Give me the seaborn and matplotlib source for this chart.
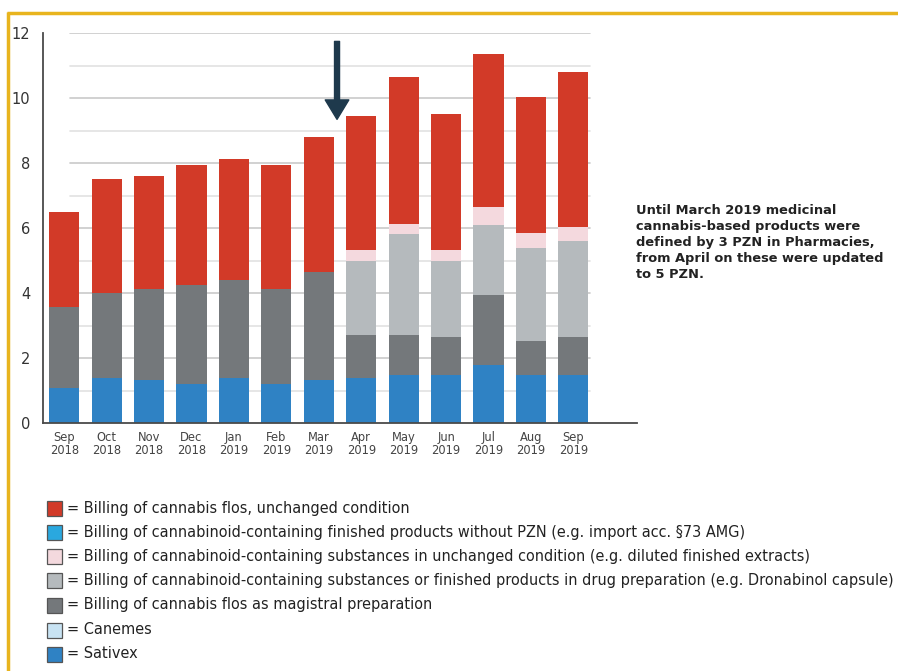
import numpy as np
import pandas as pd
import matplotlib
matplotlib.use("Agg")
import matplotlib.pyplot as plt
from matplotlib.patches import Rectangle
from matplotlib.lines import Line2D
import seaborn as sns

# ---------------- data ----------------
months = ["Sep\n2018", "Oct\n2018", "Nov\n2018", "Dec\n2018", "Jan\n2019", "Feb\n2019",
          "Mar\n2019", "Apr\n2019", "May\n2019", "Jun\n2019", "Jul\n2019", "Aug\n2019", "Sep\n2019"]
sativex = [1.08, 1.38, 1.31, 1.21, 1.38, 1.21, 1.33, 1.38, 1.49, 1.49, 1.79, 1.49, 1.49]
flos_magistral = [2.48, 2.62, 2.81, 3.03, 3.03, 2.91, 3.32, 1.34, 1.23, 1.15, 2.14, 1.04, 1.15]
drug_preparation = [0, 0, 0, 0, 0, 0, 0, 2.28, 3.10, 2.36, 2.17, 2.85, 2.97]
substances_unchanged = [0, 0, 0, 0, 0, 0, 0, 0.33, 0.31, 0.33, 0.54, 0.47, 0.44]
flos_unchanged = [2.95, 3.52, 3.50, 3.69, 3.72, 3.81, 4.17, 4.11, 4.51, 4.19, 4.71, 4.18, 4.77]

legend_labels = [
    "= Billing of cannabis flos, unchanged condition",
    "= Billing of cannabinoid-containing finished products without PZN (e.g. import acc. §73 AMG)",
    "= Billing of cannabinoid-containing substances in unchanged condition (e.g. diluted finished extracts)",
    "= Billing of cannabinoid-containing substances or finished products in drug preparation (e.g. Dronabinol capsule)",
    "= Billing of cannabis flos as magistral preparation",
    "= Canemes",
    "= Sativex",
]
note_text = ("Until March 2019 medicinal\ncannabis-based products were\n"
             "defined by 3 PZN in Pharmacies,\nfrom April on these were updated\nto 5 PZN.")

# ---------------- colours ----------------
c_red = "#d23a28"
c_cyan = "#2aa8df"
c_pink = "#f4d9de"
c_lgray = "#b5babd"
c_dgray = "#74787b"
c_lblue = "#c8e3f3"
c_blue = "#2f82c4"
legend_colors = [c_red, c_cyan, c_pink, c_lgray, c_dgray, c_lblue, c_blue]

df = pd.DataFrame({
    "month": months,
    "sativex": sativex,
    "magistral": flos_magistral,
    "drugprep": drug_preparation,
    "subst": substances_unchanged,
    "flos": flos_unchanged,
})
df["c1"] = df["sativex"]
df["c2"] = df["c1"] + df["magistral"]
df["c3"] = df["c2"] + df["drugprep"]
df["c4"] = df["c3"] + df["subst"]
df["c5"] = df["c4"] + df["flos"]

sns.set_style("white")
plt.rcParams["font.family"] = ["DejaVu Sans"]

fig = plt.figure(figsize=(8.98, 6.71), dpi=100)
ax = fig.add_axes([43 / 898, 1 - 423 / 671, 594 / 898, (423 - 33.3) / 671])

# gridlines
for v in range(1, 13):
    col = "#c9c9c9" if v % 2 == 0 else "#e2e2e2"
    ax.axhline(v, xmin=0.045, xmax=0.921, color=col, lw=1.2, zorder=0)

for col, c in [("c5", c_red), ("c4", c_pink), ("c3", c_lgray), ("c2", c_dgray), ("c1", c_blue)]:
    sns.barplot(data=df, x="month", y=col, color=c, width=0.71, saturation=1,
                linewidth=0, ax=ax, zorder=2)

ax.set_xlim(-0.5, 13.5)
ax.set_ylim(0, 12)
ax.set_xlabel("")
ax.set_ylabel("")

for s in ["top", "right"]:
    ax.spines[s].set_visible(False)
for s in ["left", "bottom"]:
    ax.spines[s].set_color("#4a4a4a")
    ax.spines[s].set_linewidth(1.3)

ax.set_yticks(range(0, 13, 2))
ax.set_yticklabels([str(v) for v in range(0, 13, 2)], fontsize=10.5, color="#333333")
ax.tick_params(axis="y", direction="in", length=11, width=1.2, color="#4a4a4a", pad=9)

ax.set_xticks(range(len(months)))
ax.set_xticklabels(months, fontsize=8.3, color="#444444", linespacing=0.95)
ax.tick_params(axis="x", which="major", length=0, pad=6)
ax.set_xticks(np.arange(0.5, 14, 1), minor=True)
ax.tick_params(axis="x", which="minor", direction="in", length=6, width=1.2, color="#4a4a4a")

# arrow marking the change
ax.annotate("", xy=(6.43, 9.35), xytext=(6.43, 11.75),
            arrowprops=dict(facecolor="#1e394c", edgecolor="#1e394c",
                            width=3.6, headwidth=17, headlength=14), zorder=5)

# note text
fig.text(636 / 898, 1 - 204 / 671, note_text, fontsize=9.4, color="#222222",
         fontweight="bold", va="top", ha="left", linespacing=1.3)

# legend
rows_y = [508, 532, 556, 580, 605, 630, 654]
for y, c, lab in zip(rows_y, legend_colors, legend_labels):
    fig.patches.append(Rectangle(((47) / 898, 1 - (y + 8) / 671), 15 / 898, 15 / 671,
                                 transform=fig.transFigure, facecolor=c,
                                 edgecolor="#555555", lw=0.9))
    fig.text(67 / 898, 1 - y / 671, lab, fontsize=10.45, color="#222222",
             va="center", ha="left")

# yellow frame
yel = "#e8b41e"
fig.add_artist(Line2D([7 / 898, 1], [1 - 13 / 671, 1 - 13 / 671], color=yel, lw=2.5,
                      transform=fig.transFigure, solid_capstyle="butt"))
fig.add_artist(Line2D([7.5 / 898, 7.5 / 898], [0, 1 - 12 / 671], color=yel, lw=2.5,
                      transform=fig.transFigure, solid_capstyle="butt"))

fig.savefig("out.png", dpi=100)
